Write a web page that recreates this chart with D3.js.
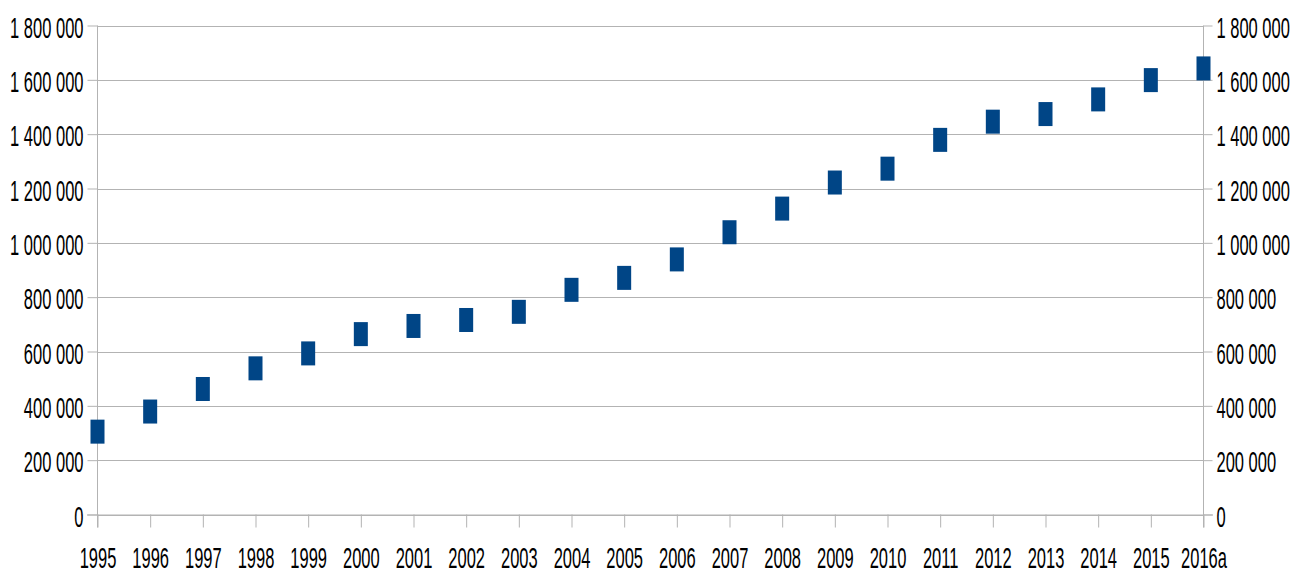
<!DOCTYPE html>
<html>
<head>
<meta charset="utf-8">
<script src="https://cdn.jsdelivr.net/npm/d3@7"></script>
<style>
  html, body { margin: 0; padding: 0; background: #fff; }
  svg { display: block; }
  text { font-family: "Liberation Sans", Arial, sans-serif; font-size: 30px; fill: #000; }
</style>
</head>
<body>
<svg id="chart" width="1297" height="574"></svg>
<script>
// Yearly values (point markers)
const years = ["1995","1996","1997","1998","1999","2000","2001","2002","2003","2004","2005",
               "2006","2007","2008","2009","2010","2011","2012","2013","2014","2015","2016a"];
const values = [305000, 379000, 462000, 538000, 593000, 664000, 694000, 716000, 746000, 827000, 871000,
                939000, 1039000, 1126000, 1222000, 1273000, 1379000, 1446000, 1474000, 1528000, 1599000, 1642000];
const yTicks = [0, 200000, 400000, 600000, 800000, 1000000, 1200000, 1400000, 1600000, 1800000];

const svg = d3.select("#chart");
const plotLeft = 97, plotRight = 1203, plotTop = 25.5, plotBottom = 514.5;
const sx = 0.55; // condensed glyph width

const x = d3.scalePoint().domain(years).range([plotLeft, plotRight]).padding(0);
const y = d3.scaleLinear().domain([0, 1800000]).range([plotBottom, plotTop]);

const fmt = v => d3.format(",")(v).replace(/,/g, " ");
const grey = "#b3b3b3";

// horizontal gridlines
svg.append("g")
  .selectAll("line")
  .data(yTicks)
  .join("line")
  .attr("x1", plotLeft).attr("x2", plotRight)
  .attr("y1", d => Math.round(y(d)) + 0.5).attr("y2", d => Math.round(y(d)) + 0.5)
  .attr("stroke", grey).attr("stroke-width", 1);

function styleAxis(g) {
  g.selectAll("path.domain").attr("stroke", grey).attr("stroke-width", 1);
  g.selectAll(".tick line").attr("stroke", grey).attr("stroke-width", 1);
}

// left axis
const yLeft = svg.append("g")
  .attr("transform", `translate(${plotLeft + 0.5},0)`)
  .call(d3.axisLeft(y).tickValues(yTicks).tickFormat(fmt).tickSize(10).tickSizeOuter(0))
  .call(styleAxis);
yLeft.select("path.domain").remove();
yLeft.append("line").attr("y1", plotTop).attr("y2", plotBottom + 13).attr("stroke", grey);
yLeft.selectAll(".tick text")
  .attr("x", 0).attr("dy", null).attr("y", 0)
  .attr("font-size", 30).attr("font-family", null).attr("fill", "#000")
  .attr("text-anchor", "end")
  .attr("transform", `translate(-14,11.5) scale(${sx},1)`);

// right axis
const yRight = svg.append("g")
  .attr("transform", `translate(${plotRight + 0.5},0)`)
  .call(d3.axisRight(y).tickValues(yTicks).tickFormat(fmt).tickSize(9).tickSizeOuter(0))
  .call(styleAxis);
yRight.select("path.domain").remove();
yRight.append("line").attr("y1", plotTop).attr("y2", plotBottom + 13).attr("stroke", grey);
yRight.selectAll(".tick text")
  .attr("x", 0).attr("dy", null).attr("y", 0)
  .attr("font-size", 30).attr("font-family", null).attr("fill", "#000")
  .attr("text-anchor", "start")
  .attr("transform", `translate(13,11.5) scale(${sx},1)`);

// bottom axis
const xAxis = svg.append("g")
  .attr("transform", `translate(0.5,${plotBottom})`)
  .call(d3.axisBottom(x).tickSize(13).tickSizeOuter(0))
  .call(styleAxis);
xAxis.select("path.domain").remove();
xAxis.append("line").attr("x1", plotLeft - 10.5).attr("x2", plotRight + 9.5).attr("y1", 0.5).attr("y2", 0.5)
  .attr("stroke", grey);
xAxis.selectAll(".tick text")
  .attr("y", 0).attr("dy", null)
  .attr("font-size", 30).attr("font-family", null).attr("fill", "#000")
  .attr("text-anchor", "middle")
  .attr("transform", `translate(0,53.5) scale(${sx},1)`);

// markers
const mw = 14, mh = 24;
svg.append("g")
  .selectAll("rect")
  .data(years.map((yr, i) => ({ yr, v: values[i] })))
  .join("rect")
  .attr("x", d => x(d.yr) - mw / 2 + 0.5)
  .attr("y", d => y(d.v) - mh / 2)
  .attr("width", mw)
  .attr("height", mh)
  .attr("fill", "#004586");
</script>
</body>
</html>
